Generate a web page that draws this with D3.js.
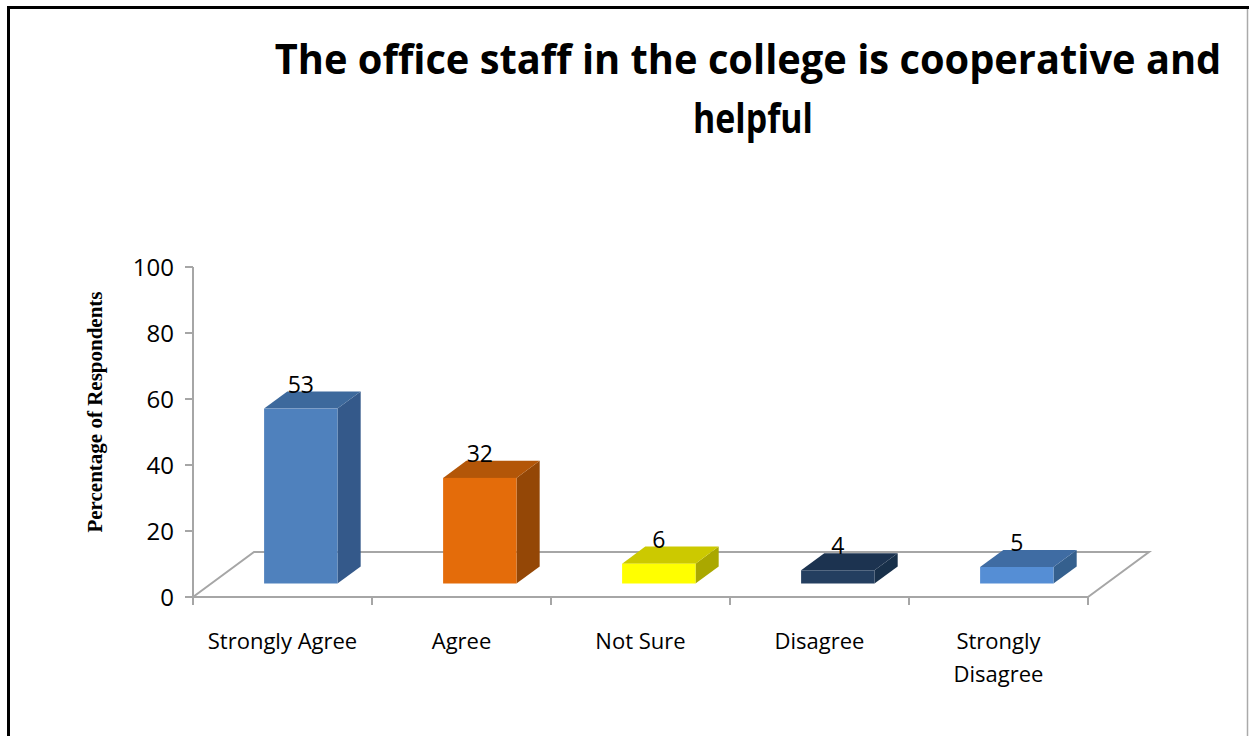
<!DOCTYPE html>
<html><head><meta charset="utf-8">
<script src="https://cdn.jsdelivr.net/npm/d3@7"></script>
<style>body{margin:0;background:#fff}svg{display:block}</style>
</head><body>
<svg id="c" width="1249" height="736"></svg>
<script>
const categories = ["Strongly Agree", "Agree", "Not Sure", "Disagree", "Strongly Disagree"];
const values = [53, 32, 6, 4, 5];
const yTicks = [0, 20, 40, 60, 80, 100];
const frontColors = ["#4F81BD", "#E46C0A", "#FFFF00", "#243F60", "#558ED5"];
const topColors = ["#3D699C", "#B35608", "#CCC900", "#1C3350", "#3F6CA3"];
const sideColors = ["#34598A", "#944706", "#AAA800", "#18304A", "#35608E"];
const titleLines = ["The office staff in the college is cooperative and", "helpful"];
const yTitle = "Percentage of Respondents";

const svg = d3.select("#c");
const x = d3.scaleBand().domain(categories).range([193, 1088]).padding(0);
const y = d3.scaleLinear().domain([0, 100]).range([597, 267]);
const depth = {dx: 61, dy: -45};
const barFront = 0.30, barBack = 0.68, barW = 0.41;
const font = "Open Sans, sans-serif";

// frame
svg.append("line").attr("x1", 8.5).attr("y1", 6).attr("x2", 8.5).attr("y2", 736).attr("stroke", "#000").attr("stroke-width", 3);
svg.append("line").attr("x1", 7).attr("y1", 7.5).attr("x2", 1249).attr("y2", 7.5).attr("stroke", "#000").attr("stroke-width", 3);
svg.append("line").attr("x1", 1247.5).attr("y1", 9).attr("x2", 1247.5).attr("y2", 736).attr("stroke", "#aaa").attr("stroke-width", 1.5);

// title (horizontally condensed to match the narrow original face)
function titleLine(txt, cx, baseY, targetW) {
  const t = svg.append("text").attr("text-anchor", "middle")
    .attr("font-family", font).attr("font-weight", "bold").attr("font-size", 42).text(txt);
  const w = t.node().getComputedTextLength();
  t.attr("transform", `translate(${cx},${baseY}) scale(${targetW / w},1)`);
}
titleLine(titleLines[0], 748, 74, 947);
titleLine(titleLines[1], 753, 133, 120);

// floor
const x0 = x.range()[0], x1 = x.range()[1], y0 = y(0);
const gridC = "#a6a6a6";
svg.append("polyline")
  .attr("points", [[x0, y0], [x0 + depth.dx, y0 + depth.dy], [x1 + depth.dx, y0 + depth.dy], [x1, y0]].map(p => p.join(",")).join(" "))
  .attr("fill", "none").attr("stroke", gridC).attr("stroke-width", 2);

// y axis
const yAxis = svg.append("g");
yAxis.append("line").attr("x1", x0).attr("x2", x0).attr("y1", y(100)).attr("y2", y0).attr("stroke", gridC).attr("stroke-width", 2);
yTicks.forEach(t => {
  yAxis.append("line").attr("x1", x0 - 8).attr("x2", x0).attr("y1", y(t)).attr("y2", y(t)).attr("stroke", gridC).attr("stroke-width", 2);
  yAxis.append("text").attr("x", x0 - 19).attr("y", y(t)).attr("dy", "0.36em").attr("text-anchor", "end")
    .attr("font-family", font).attr("font-size", 24).attr("fill", "#000").text(t);
});
// x axis
svg.append("line").attr("x1", x0 - 8).attr("x2", x1).attr("y1", y0).attr("y2", y0).attr("stroke", gridC).attr("stroke-width", 2);
[...categories.map(c => x(c)), x1].forEach(px => {
  svg.append("line").attr("x1", px).attr("x2", px).attr("y1", y0).attr("y2", y0 + 8).attr("stroke", gridC).attr("stroke-width", 2);
});

// y title
svg.append("text").attr("transform", `translate(102,412) rotate(-90)`).attr("text-anchor", "middle")
  .attr("font-family", "Liberation Serif, Times New Roman, serif").attr("font-weight", "bold").attr("font-size", 21)
  .text(yTitle);

// bars
const bw = x.bandwidth();
categories.forEach((c, i) => {
  const v = values[i];
  const h = y0 - y(v);
  const fx = x(c) + bw * (1 - barW) / 2 + depth.dx * barFront;
  const fy = y0 + depth.dy * barFront;
  const ddx = depth.dx * (barBack - barFront), ddy = depth.dy * (barBack - barFront);
  const w = bw * barW;
  const top = fy - h;
  const g = svg.append("g");
  g.append("polygon").attr("points", [[fx + w, top], [fx + w + ddx, top + ddy], [fx + w + ddx, fy + ddy], [fx + w, fy]].map(p => p.join(",")).join(" "))
    .attr("fill", sideColors[i]);
  g.append("polygon").attr("points", [[fx, top], [fx + ddx, top + ddy], [fx + w + ddx, top + ddy], [fx + w, top]].map(p => p.join(",")).join(" "))
    .attr("fill", topColors[i]);
  g.append("rect").attr("x", fx).attr("y", top).attr("width", w).attr("height", h).attr("fill", frontColors[i]);
  svg.append("text").attr("x", fx + w / 2).attr("y", top - 16).attr("text-anchor", "middle")
    .attr("font-family", font).attr("font-size", 23).attr("fill", "#000").text(v);
});

// category labels
categories.forEach(c => {
  const cx = x(c) + bw / 2;
  const words = c === "Strongly Disagree" ? ["Strongly", "Disagree"] : [c];
  words.forEach((wd, k) => {
    svg.append("text").attr("x", cx).attr("y", 649 + k * 33).attr("text-anchor", "middle")
      .attr("font-family", font).attr("font-size", 22).attr("fill", "#000").text(wd);
  });
});
</script>
</body></html>
